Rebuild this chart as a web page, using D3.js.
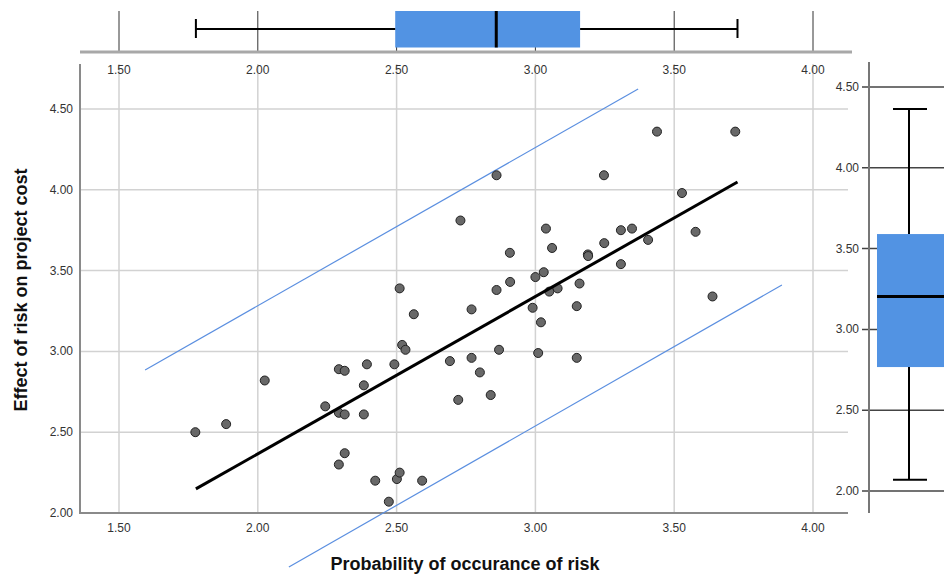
<!DOCTYPE html>
<html><head><meta charset="utf-8">
<script src="https://cdn.jsdelivr.net/npm/d3@7"></script>
<style>
body{margin:0;background:#fff;}
svg{display:block;font-family:"Liberation Sans",Arial,sans-serif;}
</style></head>
<body><svg id="c" width="944" height="576"></svg>
<script>
// ---- data ----
const probX = [1.775,1.886,2.025,2.243,2.292,2.313,2.292,2.313,2.313,2.292,2.382,2.393,2.382,2.423,2.472,2.501,2.511,2.492,2.511,2.520,2.532,2.562,2.592,2.692,2.722,2.730,2.770,2.770,2.800,2.839,2.860,2.860,2.869,2.909,2.908,2.990,3.000,3.010,3.020,3.030,3.038,3.050,3.060,3.080,3.149,3.149,3.159,3.189,3.190,3.248,3.247,3.308,3.308,3.348,3.406,3.438,3.528,3.577,3.638,3.720];
const effectY = [2.50,2.55,2.82,2.66,2.89,2.88,2.62,2.61,2.37,2.30,2.79,2.92,2.61,2.20,2.07,2.21,2.25,2.92,3.39,3.04,3.01,3.23,2.20,2.94,2.70,3.81,3.26,2.96,2.87,2.73,3.38,4.09,3.01,3.43,3.61,3.27,3.46,2.99,3.18,3.49,3.76,3.37,3.64,3.39,3.28,2.96,3.42,3.60,3.59,3.67,4.09,3.75,3.54,3.76,3.69,4.36,3.98,3.74,3.34,4.36];
const fitLine = [[1.777,2.149],[3.728,4.048]];
const upperPI = [[1.594,2.885],[3.370,4.624]];
const lowerPI = [[2.112,1.666],[3.888,3.411]];
// boxplot stats: [min, q1, median, q3, max]
const boxX = [1.777,2.495,2.859,3.161,3.728];
const boxY = [2.07,2.767,3.203,3.59,4.364];
const tickVals = [1.5,2.0,2.5,3.0,3.5,4.0];
const yTickVals = [2.0,2.5,3.0,3.5,4.0,4.5];
const xTitle = "Probability of occurance of risk";
const yTitle = "Effect of risk on project cost";

// ---- layout ----
const svg = d3.select("#c");
const L=80, R=848, T=64, B=513;
const x = d3.scaleLinear().domain([1.5,4.0]).range([119,813]);
const y = d3.scaleLinear().domain([2.0,4.5]).range([513,109]);
const yR = d3.scaleLinear().domain([2.0,4.5]).range([491,87]);
const fmt = d3.format(".2f");
const gridC="#d2d2d2", boxFill="#5293e3";

// main grid
const g = svg.append("g");
g.selectAll(".vg").data(tickVals).join("line")
  .attr("x1",d=>x(d)).attr("x2",d=>x(d)).attr("y1",T).attr("y2",B)
  .attr("stroke",gridC).attr("stroke-width",1.5);
g.selectAll(".hg").data(yTickVals.slice(1)).join("line")
  .attr("x1",L).attr("x2",R).attr("y1",d=>y(d)).attr("y2",d=>y(d))
  .attr("stroke",gridC).attr("stroke-width",1.5);
// main axes lines
g.append("line").attr("x1",L).attr("x2",L).attr("y1",T).attr("y2",B+1).attr("stroke","#8a8a8a").attr("stroke-width",2);
g.append("line").attr("x1",L).attr("x2",R).attr("y1",B).attr("y2",B).attr("stroke","#8a8a8a").attr("stroke-width",2);
// tick labels
g.selectAll(".xl").data(tickVals).join("text")
  .attr("x",d=>x(d)).attr("y",B+19).attr("text-anchor","middle")
  .attr("font-size",12).attr("fill","#333").text(fmt);
g.selectAll(".yl").data(yTickVals).join("text")
  .attr("x",L-7).attr("y",d=>y(d)+4).attr("text-anchor","end")
  .attr("font-size",12).attr("fill","#333").text(fmt);

// lines
const line = d3.line().x(d=>x(d[0])).y(d=>y(d[1]));
[upperPI,lowerPI].forEach(p=>svg.append("path").attr("d",line(p)).attr("fill","none")
  .attr("stroke","#5b8fe0").attr("stroke-width",1.2));
// points
svg.append("g").selectAll("circle").data(probX.map((v,i)=>[v,effectY[i]])).join("circle")
  .attr("cx",d=>x(d[0])).attr("cy",d=>y(d[1])).attr("r",4.5)
  .attr("fill","#686868").attr("stroke","#222").attr("stroke-width",1);
svg.append("path").attr("d",line(fitLine)).attr("fill","none")
  .attr("stroke","#000").attr("stroke-width",3);

// titles
svg.append("text").attr("x",465).attr("y",570).attr("text-anchor","middle")
  .attr("font-size",18).attr("font-weight","bold").attr("fill","#111").text(xTitle);
svg.append("text").attr("transform","translate(27,290) rotate(-90)").attr("text-anchor","middle")
  .attr("font-size",18).attr("font-weight","bold").attr("fill","#111").text(yTitle);

// ---- top boxplot ----
const tp = svg.append("g");
const tTop=11, tBot=52, bTop=11, bBot=47.5, wy=29;
tp.selectAll("line.v").data(tickVals).join("line")
  .attr("x1",d=>x(d)).attr("x2",d=>x(d)).attr("y1",tTop).attr("y2",tBot)
  .attr("stroke","#333").attr("stroke-width",1);
tp.append("rect").attr("x",x(boxX[1])).attr("width",x(boxX[3])-x(boxX[1]))
  .attr("y",bTop).attr("height",bBot-bTop).attr("fill",boxFill);
tp.append("line").attr("x1",x(boxX[0])).attr("x2",x(boxX[1])).attr("y1",wy).attr("y2",wy).attr("stroke","#000").attr("stroke-width",2);
tp.append("line").attr("x1",x(boxX[3])).attr("x2",x(boxX[4])).attr("y1",wy).attr("y2",wy).attr("stroke","#000").attr("stroke-width",2);
[boxX[0],boxX[4]].forEach(v=>tp.append("line").attr("x1",x(v)).attr("x2",x(v)).attr("y1",19).attr("y2",38).attr("stroke","#000").attr("stroke-width",2));
tp.append("line").attr("x1",x(boxX[2])).attr("x2",x(boxX[2])).attr("y1",bTop).attr("y2",bBot).attr("stroke","#000").attr("stroke-width",3);
tp.append("line").attr("x1",L).attr("x2",R+4).attr("y1",tBot).attr("y2",tBot).attr("stroke","#a8a8a8").attr("stroke-width",3);
tp.selectAll("text").data(tickVals).join("text")
  .attr("x",d=>x(d)).attr("y",74).attr("text-anchor","middle")
  .attr("font-size",12).attr("fill","#333").text(fmt);

// ---- right boxplot ----
const rp = svg.append("g");
const aX=869, bL=877, bR=944, wx=909;
rp.selectAll("line.h").data(yTickVals).join("line")
  .attr("x1",aX-7).attr("x2",944).attr("y1",d=>yR(d)).attr("y2",d=>yR(d))
  .attr("stroke","#444").attr("stroke-width",1.5);
rp.append("rect").attr("x",bL).attr("width",bR-bL).attr("y",yR(boxY[3])).attr("height",yR(boxY[1])-yR(boxY[3])).attr("fill",boxFill);
rp.append("line").attr("x1",wx).attr("x2",wx).attr("y1",yR(boxY[4])).attr("y2",yR(boxY[3])).attr("stroke","#000").attr("stroke-width",2);
rp.append("line").attr("x1",wx).attr("x2",wx).attr("y1",yR(boxY[1])).attr("y2",yR(boxY[0])).attr("stroke","#000").attr("stroke-width",2);
[boxY[0],boxY[4]].forEach(v=>rp.append("line").attr("x1",893).attr("x2",927).attr("y1",yR(v)).attr("y2",yR(v)).attr("stroke","#000").attr("stroke-width",2));
rp.append("line").attr("x1",bL).attr("x2",bR).attr("y1",yR(boxY[2])).attr("y2",yR(boxY[2])).attr("stroke","#000").attr("stroke-width",3);
rp.append("line").attr("x1",aX).attr("x2",aX).attr("y1",62).attr("y2",B).attr("stroke","#777").attr("stroke-width",2);
rp.selectAll("text").data(yTickVals).join("text")
  .attr("x",aX-10).attr("y",d=>yR(d)+4).attr("text-anchor","end")
  .attr("font-size",12).attr("fill","#333").text(fmt);
</script></body></html>
